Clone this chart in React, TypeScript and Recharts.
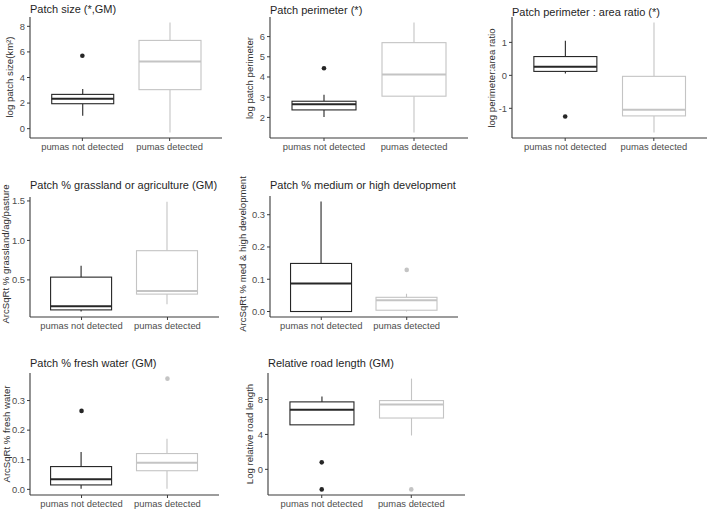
import React from 'react';
import { ComposedChart, Bar, Scatter, XAxis, YAxis } from 'recharts';

const categories = ['pumas not detected', 'pumas detected'];
const groupColors = ['#262626', '#c4c4c4'];

// stats order: [lower whisker, Q1, median, Q3, upper whisker]
const sizeStats = [[1.0, 1.95, 2.33, 2.68, 3.1], [-0.3, 3.05, 5.25, 6.9, 8.3]];
const sizeOutliers = [[5.7], []];
const sizeTicks = [0, 2, 4, 6, 8];

const perimeterStats = [[2.02, 2.37, 2.65, 2.8, 3.12], [1.25, 3.05, 4.12, 5.7, 6.7]];
const perimeterOutliers = [[4.43], []];
const perimeterTicks = [2, 3, 4, 5, 6];

const ratioStats = [[0.06, 0.12, 0.26, 0.57, 1.05], [-1.73, -1.23, -1.04, -0.03, 1.6]];
const ratioOutliers = [[-1.25], []];
const ratioTicks = [-1, 0, 1];

const grassStats = [[0.1, 0.12, 0.165, 0.535, 0.68], [0.19, 0.32, 0.36, 0.87, 1.49]];
const grassOutliers = [[], []];
const grassTicks = [0.5, 1.0, 1.5];

const devStats = [[0, 0, 0.087, 0.149, 0.341], [0, 0.004, 0.035, 0.044, 0.055]];
const devOutliers = [[], [0.129]];
const devTicks = [0, 0.1, 0.2, 0.3];

const waterStats = [[0.002, 0.015, 0.034, 0.077, 0.126], [0.002, 0.063, 0.09, 0.121, 0.171]];
const waterOutliers = [[0.265], [0.374]];
const waterTicks = [0, 0.1, 0.2, 0.3];

const roadStats = [[5.1, 5.1, 6.84, 7.73, 8.35], [3.88, 5.88, 7.42, 7.88, 10.4]];
const roadOutliers = [[0.8, -2.3], [-2.3]];
const roadTicks = [0, 4, 8];

const FONT = '"Liberation Sans", Arial, Helvetica, sans-serif';
const AXIS = '#3a3a3a';
const TXT = '#4d4d4d';

function BoxShape(props: any) {
  const { x, y, width, height, payload } = props;
  if (x == null || y == null || !payload) return null;
  const top = Math.min(y, y + height);
  const bot = Math.max(y, y + height);
  const [lo, q1, med, q3, hi] = payload.stats;
  const span = hi - lo || 1;
  const py = (v: number) => bot - ((v - lo) / span) * (bot - top);
  const cx = x + width / 2;
  const c = payload.color;
  return (
    <g>
      <line x1={cx} x2={cx} y1={py(hi)} y2={py(q3)} stroke={c} strokeWidth={1.1} />
      <line x1={cx} x2={cx} y1={py(q1)} y2={py(lo)} stroke={c} strokeWidth={1.1} />
      <rect x={x} y={py(q3)} width={width} height={Math.max(0.5, py(q1) - py(q3))} fill="#fff" stroke={c} strokeWidth={1.1} />
      <line x1={x} x2={x + width} y1={py(med)} y2={py(med)} stroke={c} strokeWidth={2} />
    </g>
  );
}

function Dot(props: any) {
  const { cx, cy, payload } = props;
  if (cx == null || cy == null) return null;
  return <circle cx={cx} cy={cy} r={2.3} fill={payload.color} />;
}

type PanelCfg = {
  left: number; top: number; width: number; height: number;
  x0: number; x1: number; y0: number; y1: number;
  domain: [number, number]; ticks: number[]; decimals: number;
  stats: number[][]; outliers: number[][];
  title: string; titleY: number; ylabel: string; ylabelX: number; ylabelY: number;
};

function Panel({ cfg }: { cfg: PanelCfg }) {
  const data = categories.map((cat, i) => ({
    cat,
    range: [cfg.stats[i][0], cfg.stats[i][4]],
    stats: cfg.stats[i],
    color: groupColors[i],
  }));
  const outs: any[] = [];
  categories.forEach((cat, i) => cfg.outliers[i].forEach((v) => outs.push({ cat, v, color: groupColors[i] })));
  const plotW = cfg.x1 - cfg.x0;
  const band = plotW / 2.2;
  const pad = band * 0.1;
  const barSize = Math.round(band * 0.71);
  return (
    <>
      <div style={{ position: 'absolute', left: cfg.left, top: cfg.top, width: cfg.width, height: cfg.height }}>
        <ComposedChart
          width={cfg.width}
          height={cfg.height}
          data={data}
          margin={{ top: cfg.y0 - cfg.top, right: cfg.left + cfg.width - cfg.x1, bottom: 0, left: 0 }}
        >
          <XAxis
            dataKey="cat"
            type="category"
            allowDuplicatedCategory={false}
            padding={{ left: pad, right: pad }}
            height={cfg.top + cfg.height - cfg.y1}
            interval={0}
            tickSize={3}
            tickMargin={2}
            axisLine={{ stroke: AXIS, strokeWidth: 1.1 }}
            tickLine={{ stroke: AXIS }}
            tick={{ fill: TXT, fontSize: 9.4, fontFamily: FONT }}
          />
          <YAxis
            type="number"
            domain={cfg.domain}
            ticks={cfg.ticks}
            allowDataOverflow
            width={cfg.x0 - cfg.left}
            tickSize={3}
            tickMargin={2}
            axisLine={{ stroke: AXIS, strokeWidth: 1.1 }}
            tickLine={{ stroke: AXIS }}
            tick={{ fill: TXT, fontSize: 9.4, fontFamily: FONT }}
            tickFormatter={(v: number) => v.toFixed(cfg.decimals)}
          />
          <Bar dataKey="range" barSize={barSize} isAnimationActive={false} shape={BoxShape} />
          <Scatter data={outs} dataKey="v" isAnimationActive={false} shape={Dot} />
        </ComposedChart>
      </div>
      <div
        style={{
          position: 'absolute', left: cfg.x0, top: cfg.titleY, transform: 'translateY(-50%)',
          fontSize: 11, fontFamily: FONT, color: '#1f1f1f', whiteSpace: 'nowrap', lineHeight: 1,
        }}
      >
        {cfg.title}
      </div>
      <div
        style={{
          position: 'absolute', left: cfg.ylabelX, top: cfg.ylabelY,
          transform: 'translate(-50%, -50%) rotate(-90deg)',
          fontSize: 9.6, fontFamily: FONT, color: '#2f2f2f', whiteSpace: 'nowrap', lineHeight: 1,
        }}
      >
        {cfg.ylabel}
      </div>
    </>
  );
}

const panels: PanelCfg[] = [
  {
    left: 0, top: 0, width: 232, height: 160, x0: 30, x1: 222, y0: 17, y1: 138,
    domain: [-0.73, 8.73], ticks: sizeTicks, decimals: 0, stats: sizeStats, outliers: sizeOutliers,
    title: 'Patch size (*,GM)', titleY: 9, ylabel: 'log patch size(km²)', ylabelX: 10, ylabelY: 77,
  },
  {
    left: 235, top: 0, width: 236, height: 160, x0: 270, x1: 468, y0: 17, y1: 138,
    domain: [0.98, 6.97], ticks: perimeterTicks, decimals: 0, stats: perimeterStats, outliers: perimeterOutliers,
    title: 'Patch perimeter (*)', titleY: 10, ylabel: 'log patch perimeter', ylabelX: 250, ylabelY: 78,
  },
  {
    left: 470, top: 0, width: 239, height: 160, x0: 512, x1: 707, y0: 17, y1: 138,
    domain: [-1.9, 1.77], ticks: ratioTicks, decimals: 0, stats: ratioStats, outliers: ratioOutliers,
    title: 'Patch perimeter : area ratio (*)', titleY: 12, ylabel: 'log perimeter:area ratio', ylabelX: 492, ylabelY: 78,
  },
  {
    left: 0, top: 170, width: 232, height: 170, x0: 30, x1: 219, y0: 197, y1: 317,
    domain: [0.03, 1.55], ticks: grassTicks, decimals: 1, stats: grassStats, outliers: grassOutliers,
    title: 'Patch % grassland or agriculture (GM)', titleY: 185, ylabel: 'ArcSqRt % grassland/ag/pasture', ylabelX: 6, ylabelY: 254,
  },
  {
    left: 235, top: 170, width: 230, height: 170, x0: 270, x1: 458, y0: 196, y1: 317,
    domain: [-0.017, 0.358], ticks: devTicks, decimals: 1, stats: devStats, outliers: devOutliers,
    title: 'Patch % medium or high development', titleY: 185, ylabel: 'ArcSqRt % med & high development', ylabelX: 243, ylabelY: 254,
  },
  {
    left: 0, top: 340, width: 232, height: 170, x0: 30, x1: 219, y0: 373, y1: 495,
    domain: [-0.019, 0.393], ticks: waterTicks, decimals: 1, stats: waterStats, outliers: waterOutliers,
    title: 'Patch % fresh water (GM)', titleY: 363, ylabel: 'ArcSqRt % fresh water', ylabelX: 7, ylabelY: 434,
  },
  {
    left: 235, top: 340, width: 236, height: 170, x0: 268, x1: 465, y0: 373, y1: 495,
    domain: [-2.94, 11.04], ticks: roadTicks, decimals: 0, stats: roadStats, outliers: roadOutliers,
    title: 'Relative road length (GM)', titleY: 363, ylabel: 'Log relative road length', ylabelX: 250, ylabelY: 434,
  },
];

export default function App() {
  return (
    <div style={{ position: 'absolute', left: 0, top: 0, width: 709, height: 510, background: '#fff', overflow: 'hidden' }}>
      {panels.map((p, i) => (
        <Panel key={i} cfg={p} />
      ))}
    </div>
  );
}
